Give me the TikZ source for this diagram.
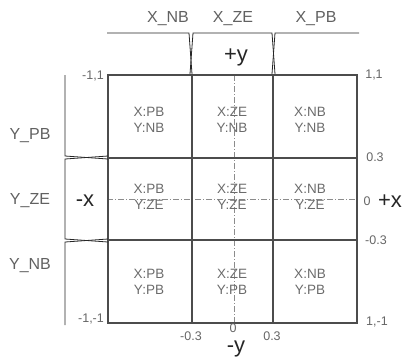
\documentclass[tikz,border=0pt]{standalone}
\usepackage{fontspec}
\setmainfont{Liberation Sans}
\begin{document}
\begin{tikzpicture}[x=1pt,y=-1pt,
  gridline/.style={draw=black!70, line width=1.1pt},
  brk/.style={draw=black!85, line width=0.8pt},
  axisline/.style={draw=black!45, line width=0.5pt, dash pattern=on 6pt off 2pt on 1pt off 2pt},
  lbl/.style={text=black!62, font=\fontsize{16}{18}\selectfont, inner sep=0},
  tick/.style={text=black!60, font=\fontsize{12.5}{14}\selectfont, inner sep=0},
  cell/.style={text=black!58, font=\fontsize{13.5}{16}\selectfont, align=center, inner sep=0},
  dir/.style={text=black!85, font=\fontsize{22}{23}\selectfont, inner sep=0}]
\useasboundingbox (0,0) rectangle (404,360);
% axis lines
\coordinate (hl) at (107,199);
\coordinate (hr) at (357,199);
\coordinate (vt) at (234,75);
\coordinate (vb) at (234,323);
\draw[axisline] (hl) -- (hr);
\draw[axisline] (vt) -- (vb);
% grid
\coordinate (g00) at (108,75);
\coordinate (g11) at (357,323);
\draw[gridline] (g00) rectangle (g11);
\draw[gridline] (192,75) -- (192,323);
\draw[gridline] (273,75) -- (273,323);
\draw[gridline] (108,158) -- (357,158);
\draw[gridline] (108,240) -- (357,240);
% top brackets
\draw[brk] (107,33) -- (189,33) -- (192,74);
\draw[brk] (190,74) -- (193,33) -- (272,33) -- (275,74);
\draw[brk] (272,74) -- (275,33) -- (359,33);
% left brackets
\draw[brk] (65,75) -- (65,156) -- (108,159);
\draw[brk] (108,156) -- (65,159) -- (65,239) -- (108,242);
\draw[brk] (108,239) -- (65,242) -- (65,325);
% bracket labels
\node[lbl] (xnb) at (168,19) {X\_NB};
\node[lbl] (xze) at (233,19) {X\_ZE};
\node[lbl] (xpb) at (316,19) {X\_PB};
\node[lbl] (ypb) at (30,136) {Y\_PB};
\node[lbl] (yze) at (30,201) {Y\_ZE};
\node[lbl] (ynb) at (30,266) {Y\_NB};
% directions
\node[dir] (py) at (236,57) {+y};
\node[dir] (my) at (236,349) {-y};
\node[dir] (mx) at (85,201) {-x};
\node[dir] (px) at (390,201) {+x};
% ticks
\node[tick] (tnw) at (93,76) {-1,1};
\node[tick] (tsw) at (91,319) {-1,-1};
\node[tick] (tne) at (374,75) {1,1};
\node[tick] (tp3) at (375,157) {0.3};
\node[tick] (t0r) at (367,201) {0};
\node[tick] (tm3) at (376,240) {-0.3};
\node[tick] (tse) at (377,322) {1,-1};
\node[tick] (bm3) at (191,336) {-0.3};
\node[tick] (b0) at (233,328) {0};
\node[tick] (bp3) at (272,336) {0.3};
% cells
\node[cell] (c11) at (149,120) {X:PB\\Y:NB};
\node[cell] (c12) at (232,120) {X:ZE\\Y:NB};
\node[cell] (c13) at (310,120) {X:NB\\Y:NB};
\node[cell] (c21) at (149,197) {X:PB\\Y:ZE};
\node[cell] (c22) at (232,197) {X:ZE\\Y:ZE};
\node[cell] (c23) at (310,197) {X:NB\\Y:ZE};
\node[cell] (c31) at (149,282) {X:PB\\Y:PB};
\node[cell] (c32) at (232,282) {X:ZE\\Y:PB};
\node[cell] (c33) at (310,282) {X:NB\\Y:PB};
\end{tikzpicture}
\end{document}
